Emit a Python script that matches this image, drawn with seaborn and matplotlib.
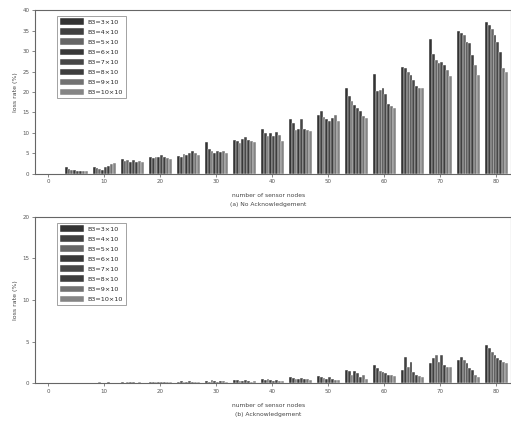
import matplotlib
matplotlib.use("Agg")
import matplotlib.pyplot as plt
import seaborn as sns
import pandas as pd

nodes = [5, 10, 15, 20, 25, 30, 35, 40, 45, 50, 55, 60, 65, 70, 75, 80]
series = ["B3=3×10", "B3=4×10", "B3=5×10", "B3=6×10",
          "B3=7×10", "B3=8×10", "B3=9×10", "B3=10×10"]

# (a) loss rate, one list per series across node counts
top_s1 = [1.6, 1.6, 3.6, 4.0, 4.4, 7.7, 8.2, 10.9, 13.3, 14.5, 21.0, 24.4, 26.2, 33.0, 35.0, 37.0]
top_s2 = [1.2, 1.5, 3.2, 3.8, 4.2, 6.0, 8.0, 10.0, 12.5, 15.3, 19.0, 20.2, 25.8, 29.4, 34.3, 36.3]
top_s3 = [1.0, 1.2, 3.4, 4.2, 4.8, 5.6, 7.6, 9.3, 10.6, 14.0, 17.7, 20.6, 25.0, 27.8, 33.9, 35.5]
top_s4 = [1.0, 1.0, 2.8, 4.0, 4.6, 5.2, 8.4, 10.0, 11.0, 13.3, 16.9, 21.0, 24.2, 27.0, 32.3, 33.9]
top_s5 = [0.8, 1.6, 3.4, 4.5, 5.2, 5.6, 8.9, 9.3, 13.3, 12.9, 16.1, 19.4, 23.0, 27.4, 31.9, 32.3]
top_s6 = [0.8, 2.0, 3.0, 4.0, 5.6, 5.4, 8.2, 10.2, 11.0, 13.7, 15.3, 17.0, 21.4, 26.6, 29.0, 29.8]
top_s7 = [0.7, 2.4, 3.2, 3.8, 5.0, 5.6, 8.0, 9.5, 10.8, 14.5, 14.1, 16.5, 21.0, 25.4, 26.6, 25.8]
top_s8 = [0.6, 2.6, 2.8, 3.6, 4.5, 5.2, 7.8, 8.0, 10.4, 13.0, 13.7, 16.0, 21.0, 23.8, 24.2, 25.0]

# (b) loss rate
bot_s1 = [0.02, 0.05, 0.1, 0.2, 0.2, 0.3, 0.35, 0.5, 0.7, 0.9, 1.6, 2.2, 1.6, 2.4, 2.8, 4.6]
bot_s2 = [0.02, 0.05, 0.05, 0.15, 0.25, 0.2, 0.4, 0.4, 0.6, 0.8, 1.5, 1.8, 3.2, 3.0, 3.2, 4.2]
bot_s3 = [0.02, 0.1, 0.15, 0.1, 0.15, 0.35, 0.3, 0.45, 0.5, 0.6, 1.0, 1.5, 2.0, 3.4, 2.8, 3.8]
bot_s4 = [0.02, 0.05, 0.1, 0.2, 0.2, 0.25, 0.25, 0.35, 0.55, 0.5, 1.5, 1.3, 2.6, 2.6, 2.4, 3.4]
bot_s5 = [0.02, 0.05, 0.1, 0.15, 0.3, 0.2, 0.35, 0.3, 0.6, 0.7, 1.2, 1.2, 1.4, 3.4, 1.8, 3.0]
bot_s6 = [0.02, 0.15, 0.05, 0.1, 0.2, 0.3, 0.3, 0.4, 0.5, 0.5, 0.8, 1.0, 1.0, 2.2, 1.6, 2.8]
bot_s7 = [0.02, 0.05, 0.1, 0.15, 0.15, 0.25, 0.2, 0.3, 0.45, 0.4, 1.0, 1.0, 0.9, 2.0, 1.0, 2.6]
bot_s8 = [0.02, 0.05, 0.05, 0.2, 0.2, 0.2, 0.25, 0.25, 0.4, 0.35, 0.5, 0.9, 0.8, 2.0, 0.8, 2.4]

x_ticks = [0, 10, 20, 30, 40, 50, 60, 70, 80]
top_yticks = [0, 5, 10, 15, 20, 25, 30, 35, 40]
bot_yticks = [0, 5, 10, 15, 20]

palette = ["#333333", "#404040", "#666666", "#383838",
           "#474747", "#3d3d3d", "#727272", "#858585"]


def long_df(cols):
    rows = []
    for name, vals in zip(series, cols):
        for n, v in zip(nodes, vals):
            rows.append({"nodes": n, "series": name, "loss": v})
    return pd.DataFrame(rows)


df_top = long_df([top_s1, top_s2, top_s3, top_s4, top_s5, top_s6, top_s7, top_s8])
df_bot = long_df([bot_s1, bot_s2, bot_s3, bot_s4, bot_s5, bot_s6, bot_s7, bot_s8])

sns.set_style("ticks")
plt.rcParams["font.family"] = ["DejaVu Sans"]

fig = plt.figure(figsize=(5.11, 4.22), dpi=100)
ax1 = fig.add_axes([0.068, 0.588, 0.932, 0.388])
ax2 = fig.add_axes([0.068, 0.092, 0.932, 0.394])

specs = [(ax1, df_top, 40, top_yticks, "(a) No Acknowledgement"),
         (ax2, df_bot, 20, bot_yticks, "(b) Acknowledgement")]

for ax, df, ymax, yt, cap in specs:
    sns.barplot(data=df, x="nodes", y="loss", hue="series", hue_order=series,
                palette=palette, native_scale=True, width=0.82,
                edgecolor="white", linewidth=0.3, errorbar=None, ax=ax)
    ax.set_xlim(-2.4, 82.6)
    ax.set_ylim(0, ymax)
    ax.set_xticks(x_ticks)
    ax.set_xticklabels([str(t) for t in x_ticks])
    ax.set_yticks(yt)
    ax.set_yticklabels([str(t) for t in yt])
    ax.tick_params(labelsize=4, length=2, width=0.5, colors="#555555", pad=2)
    ax.set_xlabel("")
    ax.set_ylabel("loss rate (%)", fontsize=4.5, color="#444444", labelpad=3)
    for s in ax.spines.values():
        s.set_color("#666666")
        s.set_linewidth(0.8)
    ax.text(0.49, -0.135, "number of sensor nodes", transform=ax.transAxes,
            ha="center", va="center", fontsize=4.3, color="#444444")
    ax.text(0.49, -0.19, cap, transform=ax.transAxes,
            ha="center", va="center", fontsize=4.3, color="#444444")
    leg = ax.legend(loc="upper left", bbox_to_anchor=(0.04, 0.985),
                    fontsize=4.6, handlelength=3.8, handleheight=1.2,
                    labelspacing=0.55, borderpad=0.4, handletextpad=0.6,
                    frameon=True, fancybox=False, edgecolor="#777777")
    leg.get_frame().set_linewidth(0.6)

fig.savefig("out.png", dpi=100)
